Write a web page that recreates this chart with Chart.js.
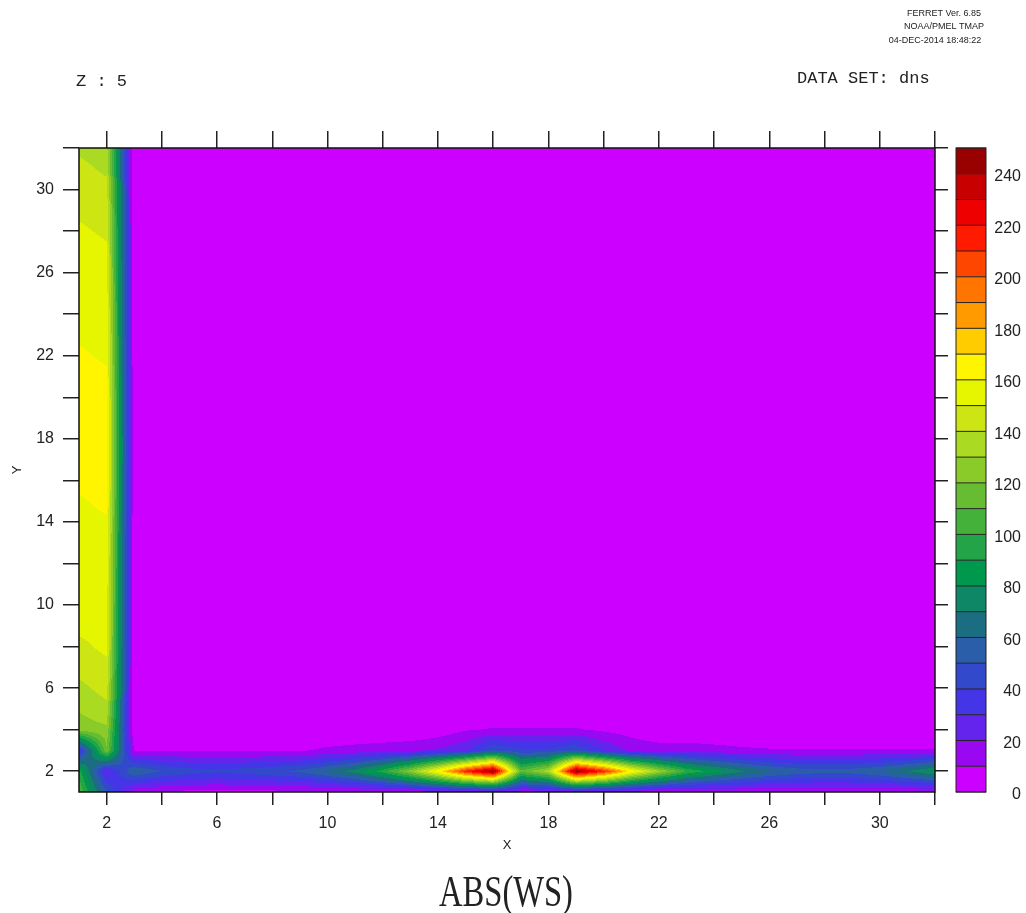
<!DOCTYPE html>
<html>
<head>
<meta charset="utf-8">
<script src="https://cdn.jsdelivr.net/npm/chart.js@4.4.1/dist/chart.umd.min.js"></script>
<style>
  html, body { margin: 0; padding: 0; background: #fff; }
  canvas { display: block; }
</style>
</head>
<body>
<canvas id="chart" width="1026" height="913"></canvas>
<script>
// grid points
const gridX = [1,2,3,4,5,6,7,8,9,10,11,12,13,14,15,16,17,18,19,20,21,22,23,24,25,26,27,28,29,30,31,32];
const gridY = [1,2,3,4,5,6,7,8,9,10,11,12,13,14,15,16,17,18,19,20,21,22,23,24,25,26,27,28,29,30,31,32];

// ABS(WS) along column x=1 and x=2 (y = 1..32)
const colX1 = [110,95,30,125,131,137,144,148,152,153,154,155,156,157,159,162,164,165,165,164,163,161,159,158,157,155,153,151,149,147,143,138];
const colX2 = [50,25,118,128,137,144,148,152,153,154,155,156,157,159,162,164,165,165,164,163,161,159,158,157,155,153,151,149,147,143,138,134];

// ABS(WS) along rows y=1..4 (x = 1..32), everything else ~0
const rowY1 = [110,50,12,8,7,7,7,7,7,8,8,9,10,11,12,14,12,12,14,12,10,9,9,9,9,9,9,9,9,9,9,9];
const rowY2 = [95,25,60,50,45,42,45,48,52,62,75,95,125,165,215,248,112,135,248,215,165,130,100,85,72,62,56,54,55,60,70,82];
const rowY3 = [30,118,9,9,9,9,9,9,9,12,14,16,18,22,28,50,42,42,50,30,18,16,16,14,12,11,11,11,11,11,11,11];
const rowY4 = [125,128,0,0,0,0,0,0,0,0,0,0,0,3,9,11,11,11,11,8,5,0,0,0,0,0,0,0,0,0,0,0];

// contour levels and colours
const levels = [0,10,20,30,40,50,60,70,80,90,100,110,120,130,140,150,160,170,180,190,200,210,220,230,240,250];
const levelColors = ['#cc00ff','#9a08f2','#6424ee','#4436e6','#3349cc','#2b5ea8','#1b6e82','#0e8766','#00984c','#24a448',
  '#44b13a','#66bd32','#8acb2a','#aadb22','#cce513','#e6f500','#fff500','#ffcc00','#ff9a00','#ff7500',
  '#ff4600','#ff1a00','#ee0000','#c80000','#990000'];
const barLabels = [0,20,40,60,80,100,120,140,160,180,200,220,240];

const xTicks = [2,4,6,8,10,12,14,16,18,20,22,24,26,28,30,32];
const yTicks = [2,4,6,8,10,12,14,16,18,20,22,24,26,28,30,32];
const xTickLabels = [2,6,10,14,18,22,26,30];
const yTickLabels = [2,6,10,14,18,22,26,30];

const cellValue = (xi, yi) => {
    if (xi === 1) return colX1[yi - 1];
    if (xi === 2) return colX2[yi - 1];
    if (yi === 1) return rowY1[xi - 1];
    if (yi === 2) return rowY2[xi - 1];
    if (yi === 3) return rowY3[xi - 1];
    if (yi === 4) return rowY4[xi - 1];
    return 0;
}

const points = [];
for (const xi of gridX) {
    for (const yi of gridY) {
        points.push({x: xi, y: yi, v: cellValue(xi, yi)});
    }
}

const hexRgb = (h) => [parseInt(h.slice(1,3),16), parseInt(h.slice(3,5),16), parseInt(h.slice(5,7),16)];

// filled contours, drawn pixel by pixel through the chart scales
const contourFill = {
    id: 'contourFill',
    beforeDatasetsDraw(chart) {
        const {ctx, chartArea: a, scales} = chart;
        const data = chart.data.datasets[0].data;
        const table = {};
        data.forEach(p => { table[p.x + ',' + p.y] = p.v; });
        const val = (i, j) => table[i + ',' + j];
        const nx = gridX.length, ny = gridY.length;
        const left = Math.round(a.left), top = Math.round(a.top);
        const w = Math.round(a.right) - left, h = Math.round(a.bottom) - top;
        const img = ctx.createImageData(w, h);
        const rgb = levelColors.map(hexRgb);
        for (let py = 0; py < h; py++) {
            const yv = scales.y.getValueForPixel(top + py + 0.5);
            let j = Math.min(Math.max(Math.floor(yv), gridY[0]), gridY[ny - 2]);
            const fy = Math.min(Math.max(yv - j, 0), 1);
            for (let px = 0; px < w; px++) {
                const xv = scales.x.getValueForPixel(left + px + 0.5);
                let i = Math.min(Math.max(Math.floor(xv), gridX[0]), gridX[nx - 2]);
                const fx = Math.min(Math.max(xv - i, 0), 1);
                const v = val(i, j) * (1 - fx) * (1 - fy) + val(i + 1, j) * fx * (1 - fy)
                        + val(i, j + 1) * (1 - fx) * fy + val(i + 1, j + 1) * fx * fy;
                let k = 0;
                while (k < rgb.length - 1 && v >= levels[k + 1]) k++;
                const o = (py * w + px) * 4;
                img.data[o] = rgb[k][0];
                img.data[o + 1] = rgb[k][1];
                img.data[o + 2] = rgb[k][2];
                img.data[o + 3] = 255;
            }
        }
        ctx.putImageData(img, left, top);
    },
    afterDraw(chart) {
        const {ctx, chartArea: a} = chart;
        ctx.save();
        ctx.strokeStyle = '#111';
        ctx.lineWidth = 1.5;
        ctx.strokeRect(a.left, a.top, a.right - a.left, a.bottom - a.top);

        // colour bar
        const bx = 956, bw = 30;
        const bh = (a.bottom - a.top) / levelColors.length;
        levelColors.forEach((c, k) => {
            const y0 = a.bottom - (k + 1) * bh;
            ctx.fillStyle = c;
            ctx.fillRect(bx, y0, bw, bh);
        });
        ctx.lineWidth = 1;
        ctx.strokeStyle = '#222';
        for (let k = 0; k <= levelColors.length; k++) {
            const y0 = a.bottom - k * bh;
            ctx.beginPath();
            ctx.moveTo(bx, y0);
            ctx.lineTo(bx + bw, y0);
            ctx.stroke();
        }
        ctx.strokeRect(bx, a.top, bw, a.bottom - a.top);
        ctx.fillStyle = '#222';
        ctx.font = '16px "Liberation Sans"';
        ctx.textAlign = 'right';
        ctx.textBaseline = 'middle';
        barLabels.forEach(v => {
            const k = levels.indexOf(v);
            ctx.fillText(String(v), 1021, a.bottom - k * bh + 3);
        });

        // header and footer text
        ctx.textBaseline = 'alphabetic';
        ctx.textAlign = 'left';
        ctx.font = '17px "Liberation Mono"';
        ctx.fillText('Z : 5', 76, 86);
        ctx.fillText('DATA SET: dns', 797, 83);
        ctx.textAlign = 'center';
        ctx.font = '9px "Liberation Sans"';
        ctx.fillText('FERRET Ver. 6.85', 944, 16);
        ctx.fillText('NOAA/PMEL TMAP', 944, 29);
        ctx.fillText('04-DEC-2014 18:48:22', 935, 43);

        ctx.save();
        ctx.translate(506, 906);
        ctx.scale(0.74, 1);
        ctx.font = '44px "Liberation Serif"';
        ctx.fillText('ABS(WS)', 0, 0);
        ctx.restore();
        ctx.restore();
    }
};

const tickFont = {family: '"Liberation Sans"', size: 16};
const tickGrid = (len) => ({drawOnChartArea: false, drawTicks: true, tickLength: len, color: '#222', lineWidth: 1.5});

new Chart(document.getElementById('chart'), {
    type: 'scatter',
    data: {
        datasets: [{
            label: 'ABS(WS)',
            data: points,
            pointRadius: 0,
            pointHoverRadius: 0
        }]
    },
    options: {
        responsive: false,
        animation: false,
        events: [],
        layout: {padding: 0},
        plugins: {legend: {display: false}, tooltip: {enabled: false}},
        scales: {
            x: {
                type: 'linear', position: 'bottom', min: 1, max: 32,
                afterBuildTicks: s => { s.ticks = xTicks.map(v => ({value: v})); },
                afterFit: s => { s.height = 121; },
                grid: tickGrid(13),
                border: {display: false},
                ticks: {
                    autoSkip: false, maxRotation: 0, padding: 9, color: '#222', font: tickFont,
                    callback: v => xTickLabels.includes(v) ? String(v) : ''
                },
                title: {display: true, text: 'X', color: '#222', font: {family: '"Liberation Sans"', size: 13}, padding: {bottom: 60}}
            },
            xTop: {
                type: 'linear', position: 'top', min: 1, max: 32,
                afterBuildTicks: s => { s.ticks = xTicks.map(v => ({value: v})); },
                afterFit: s => { s.height = 148; },
                grid: tickGrid(17),
                border: {display: false},
                ticks: {display: false}
            },
            y: {
                type: 'linear', position: 'left', min: 1, max: 32,
                afterBuildTicks: s => { s.ticks = yTicks.map(v => ({value: v})); },
                afterFit: s => { s.width = 79; },
                grid: tickGrid(16),
                border: {display: false},
                ticks: {
                    autoSkip: false, padding: 9, color: '#222', font: tickFont,
                    callback: v => yTickLabels.includes(v) ? String(v) : ''
                },
                title: {display: true, text: 'Y', color: '#222', font: {family: '"Liberation Sans"', size: 13}, padding: {top: 10}}
            },
            yRight: {
                type: 'linear', position: 'right', min: 1, max: 32,
                afterBuildTicks: s => { s.ticks = yTicks.map(v => ({value: v})); },
                afterFit: s => { s.width = 91; },
                grid: tickGrid(13),
                border: {display: false},
                ticks: {display: false}
            }
        }
    },
    plugins: [contourFill]
});
</script>
</body>
</html>
